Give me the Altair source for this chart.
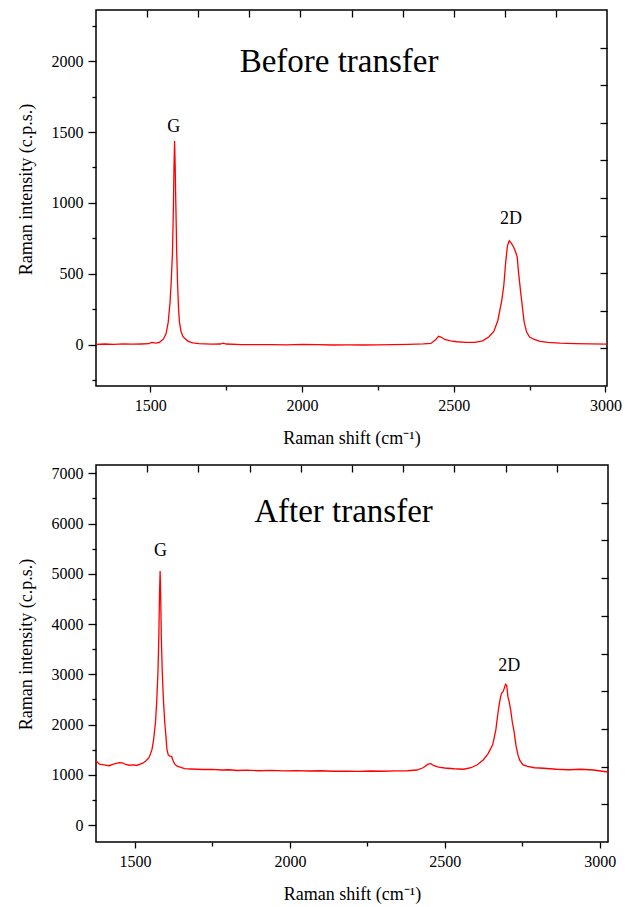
import altair as alt
import pandas as pd

# ---------------- data ----------------
top_shift = [1321, 1350, 1380, 1410, 1440, 1470, 1495, 1503, 1510, 1518, 1530, 1543, 1552,
             1559, 1565, 1569, 1573, 1576, 1578, 1580, 1582, 1584, 1587, 1590, 1593, 1596,
             1601, 1607, 1614, 1625, 1640, 1660, 1700, 1730, 1740, 1750, 1800, 1850, 1900,
             1950, 2000, 2050, 2100, 2150, 2200, 2250, 2300, 2350, 2400, 2425, 2440, 2450,
             2458, 2470, 2490, 2510, 2540, 2570, 2595, 2615, 2632, 2645, 2658, 2665, 2671,
             2677, 2683, 2690, 2697, 2703, 2709, 2714, 2720, 2726, 2732, 2740, 2750, 2765,
             2785, 2810, 2850, 2900, 2950, 3004]
top_intensity = [4, 6, 4, 7, 5, 6, 8, 17, 15, 12, 18, 40, 80,
                 160, 300, 450, 650, 950, 1250, 1436, 1250, 1000, 650, 420, 260, 160,
                 95, 62, 44, 25, 14, 8, 5, 6, 12, 6, 2, 1, 2,
                 0, 3, 1, -1, 0, -1, 0, 1, 4, 7, 10, 35, 60,
                 55, 38, 28, 22, 17, 18, 28, 55, 95, 170, 310, 420, 580,
                 700, 733, 715, 690, 660, 620, 500, 380, 270, 160, 90, 55, 38,
                 25, 18, 12, 9, 7, 5]

bot_shift = [1374, 1385, 1400, 1417, 1430, 1449, 1460, 1470, 1482, 1495, 1505, 1514, 1525,
             1535, 1545, 1550, 1555, 1560, 1566, 1570, 1574, 1577, 1579, 1581, 1583, 1585,
             1588, 1592, 1596, 1600, 1603, 1607, 1612, 1618, 1623, 1628, 1636, 1660, 1680,
             1700, 1720, 1750, 1780, 1805, 1830, 1860, 1900, 1940, 1980, 2020, 2060, 2100,
             2140, 2180, 2220, 2260, 2300, 2340, 2380, 2410, 2430, 2446, 2455, 2465, 2480,
             2500, 2530, 2560, 2585, 2605, 2625, 2640, 2655, 2665, 2671, 2677, 2683, 2688,
             2692, 2696, 2700, 2704, 2708, 2713, 2718, 2724, 2730, 2736, 2742, 2752, 2767,
             2790, 2820, 2860, 2900, 2940, 2980, 3027]
bot_intensity = [1280, 1210, 1195, 1180, 1210, 1240, 1235, 1205, 1190, 1195, 1185, 1205, 1230,
                 1275, 1340, 1420, 1510, 1700, 2040, 2450, 3030, 3800, 4600, 5056, 4500, 3700,
                 3030, 2450, 2040, 1750, 1510, 1400, 1370, 1365, 1280, 1210, 1170, 1122, 1115,
                 1110, 1105, 1108, 1095, 1100, 1085, 1092, 1080, 1088, 1078, 1082, 1075, 1080,
                 1070, 1072, 1068, 1075, 1070, 1078, 1080, 1095, 1140, 1210, 1220, 1180, 1150,
                 1135, 1120, 1110, 1140, 1200, 1300, 1420, 1600, 1900, 2200, 2450, 2620, 2650,
                 2720, 2800, 2780, 2550, 2450, 2280, 2050, 1850, 1580, 1400, 1290, 1200, 1165,
                 1140, 1130, 1110, 1100, 1110, 1095, 1055]

peak_names = ["G", "2D"]
top_peak_x = [1577, 2689]
top_peak_y = [1497, 855]
bot_peak_x = [1582, 2708]
bot_peak_y = [5354, 3065]

panel_titles = ["Before transfer", "After transfer"]
panel_title_x = [2122, 2173]
panel_title_y = [1925, 6031]

x_major = [1500, 2000, 2500, 3000]
x_minor = [1750, 2250, 2750]
top_y_major = [0, 500, 1000, 1500, 2000]
top_y_minor = [-250, 250, 750, 1250, 1750, 2250]
bot_y_major = [0, 1000, 2000, 3000, 4000, 5000, 6000, 7000]
bot_y_minor = [500, 1500, 2500, 3500, 4500, 5500, 6500]
mirror_ticks = [1, 2, 3, 4, 5, 6, 7, 8, 9]

FONT = "Liberation Serif"


def panel(sx, sy, xdom, ydom, w, h, ymaj, ymin, px, py, title_idx):
    df = pd.DataFrame({"shift": sx, "intensity": sy})
    xs = alt.Scale(domain=xdom, nice=False, zero=False)
    ys = alt.Scale(domain=ydom, nice=False, zero=False)

    line = alt.Chart(df).mark_line(color="#ff0000", strokeWidth=1.3, clip=True).encode(
        x=alt.X("shift:Q", scale=xs,
                axis=alt.Axis(orient="bottom", values=x_major, tickSize=6, labelPadding=5,
                              format="d", labelFlush=False,
                              labelFont=FONT, labelFontSize=16, labelColor="black",
                              title="Raman shift (cm⁻¹)", titleY=57,
                              titleBaseline="alphabetic")),
        y=alt.Y("intensity:Q", scale=ys,
                axis=alt.Axis(orient="left", values=ymaj, tickSize=8, labelPadding=5,
                              format="d",
                              labelFont=FONT, labelFontSize=16, labelColor="black",
                              title="Raman intensity (c.p.s.)", titleX=-65, titleY=179,
                              titleBaseline="alphabetic")),
        order="shift:Q",
    )
    minor = alt.Chart(df).mark_line(opacity=0).encode(
        x=alt.X("shift:Q", scale=xs,
                axis=alt.Axis(orient="bottom", values=x_minor, tickSize=4,
                              labels=False, title=None)),
        y=alt.Y("intensity:Q", scale=ys,
                axis=alt.Axis(orient="left", values=ymin, tickSize=4,
                              labels=False, title=None)),
    )
    mirror = alt.Chart(df).mark_point(opacity=0).encode(
        x=alt.XDatum(5, type="quantitative",
                     scale=alt.Scale(domain=[0, 10], nice=False, zero=False),
                     axis=alt.Axis(orient="bottom", offset=-h, values=mirror_ticks,
                                   tickSize=7, labels=False, title=None)),
        y=alt.YDatum(5, type="quantitative",
                     scale=alt.Scale(domain=[0, 10], nice=False, zero=False),
                     axis=alt.Axis(orient="left", offset=-w, values=mirror_ticks,
                                   tickSize=7, labels=False, title=None)),
    )
    lab_df = pd.DataFrame({"name": peak_names, "x": px, "y": py})
    labels = alt.Chart(lab_df).mark_text(font=FONT, fontSize=18, color="black",
                                         align="center", baseline="alphabetic").encode(
        x=alt.X("x:Q", scale=xs, axis=None),
        y=alt.Y("y:Q", scale=ys, axis=None),
        text="name:N",
    )
    t_df = pd.DataFrame({"name": [panel_titles[title_idx]],
                         "x": [panel_title_x[title_idx]],
                         "y": [panel_title_y[title_idx]]})
    title = alt.Chart(t_df).mark_text(font=FONT, fontSize=33, color="black",
                                      align="center", baseline="alphabetic").encode(
        x=alt.X("x:Q", scale=xs, axis=None),
        y=alt.Y("y:Q", scale=ys, axis=None),
        text="name:N",
    )
    return (
        alt.layer(line, minor, mirror, labels, title)
        .resolve_scale(x="independent", y="independent")
        .resolve_axis(x="independent", y="independent")
        .properties(width=w, height=h)
    )


top = panel(top_shift, top_intensity, [1321, 3005], [-290, 2360], 511, 376,
            top_y_major, top_y_minor, top_peak_x, top_peak_y, 0)
bottom = panel(bot_shift, bot_intensity, [1374, 3027], [-338, 7165], 512, 377,
               bot_y_major, bot_y_minor, bot_peak_x, bot_peak_y, 1)

chart = (
    alt.vconcat(top, bottom, spacing=15)
    .properties(padding={"left": 8, "top": 0, "right": 0, "bottom": 0})
    .configure_view(stroke="black", strokeWidth=1.5)
    .configure_axis(
        domain=False, grid=False, tickColor="black", tickWidth=1.3,
        labelFont=FONT, labelFontSize=16, labelColor="black",
        titleFont=FONT, titleFontSize=18, titleFontWeight="normal", titleColor="black",
        labelOverlap=False,
    )
)

chart.save("out.html", embed_options={"renderer": "svg", "actions": False})
